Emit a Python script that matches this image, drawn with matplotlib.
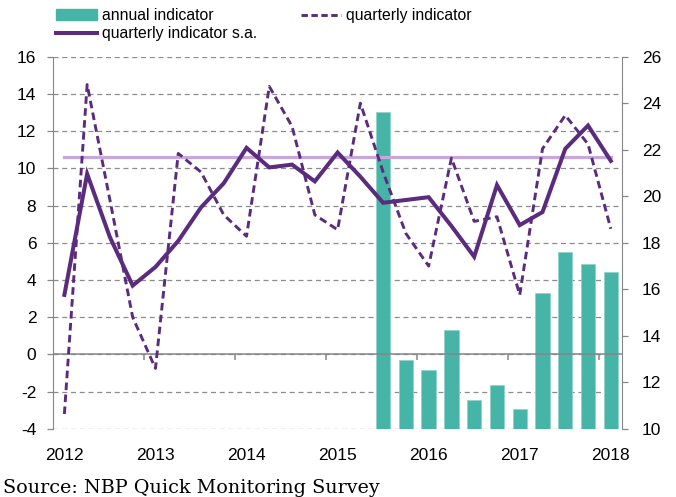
import matplotlib.pyplot as plt
from matplotlib.lines import Line2D
from matplotlib.patches import Patch
import numpy as np

# quarterly data 2012Q1 .. 2018Q1
years = ['2012', '2013', '2014', '2015', '2016', '2017', '2018']
quarterly = [-3.2, 14.5, 8.3, 2.0, -0.75, 10.8, 9.8, 7.5, 6.35, 14.4, 12.25, 7.5, 6.7,
             13.5, 9.8, 6.5, 4.75, 10.55, 7.15, 7.4, 3.2, 11.05, 12.85, 11.3, 6.75]
quarterly_sa = [3.2, 9.7, 6.3, 3.7, 4.7, 6.1, 7.9, 9.2, 11.1, 10.05, 10.2, 9.3, 10.85,
                9.55, 8.15, 8.3, 8.45, 6.9, 5.25, 9.1, 6.95, 7.65, 11.05, 12.3, 10.4]
# annual indicator (right axis), available from 2015Q3
annual_start = 14
annual = [23.6, 12.95, 12.55, 14.23, 11.26, 11.87, 10.85, 15.85, 17.6, 17.1, 16.73]
average = 10.6

purple = '#5B2C7E'
teal = '#46B4A6'
lilac = '#C8A8DC'
gray = '#868686'

plt.rcParams['font.family'] = ['Liberation Sans', 'DejaVu Sans']
plt.rcParams['axes.unicode_minus'] = False

fig = plt.figure(figsize=(6.76, 4.97), dpi=100)
ax = fig.add_axes([0.0784, 0.137, 0.842, 0.749])
ax2 = ax.twinx()
ax3 = ax.twinx()

n = len(quarterly)
x = np.arange(n)

# left axis with grid
ax.set_xlim(-0.5, n - 0.5)
ax.set_ylim(-4, 16)
ax.set_yticks(np.arange(-4, 17, 2))
ax.grid(axis='y', color='#8c8c8c', linestyle=(0, (4, 3)), linewidth=0.9)
ax.set_xticks(np.arange(0, n, 4))
ax.set_xticklabels(years)
ax.tick_params(axis='x', length=0, pad=14, labelsize=12.5)
ax.tick_params(axis='y', length=4, color=gray, width=0.9, labelsize=12.5, pad=8)
for s in ['top', 'bottom', 'right']:
    ax.spines[s].set_visible(False)
ax.spines['left'].set_color(gray)

# right axis with bars
xb = np.arange(annual_start, annual_start + len(annual))
ax2.bar(xb, np.array(annual) - 10, bottom=10, width=0.63, color=teal,
        edgecolor='#8fd3c9', linewidth=0.6)
ax2.set_ylim(10, 26)
ax2.set_yticks(np.arange(10, 27, 2))
ax2.tick_params(axis='y', length=4, color=gray, width=0.9, labelsize=12.5, pad=10)
for s in ['top', 'bottom', 'left']:
    ax2.spines[s].set_visible(False)
ax2.spines['right'].set_color(gray)

# lines on top
ax3.set_ylim(-4, 16)
ax3.set_yticks([])
for s in ax3.spines.values():
    s.set_visible(False)
ax3.axhline(0, color=gray, linewidth=1.1)
ax3.vlines(np.arange(3.5, n - 1, 4), -0.3, 0, color=gray, linewidth=1.1)
ax3.plot([x[0], x[-1]], [average, average], color=lilac, linewidth=2.3)
ax3.plot(x, quarterly, color=purple, linewidth=2.1, linestyle=(0, (2.6, 1.5)))
ax3.plot(x, quarterly_sa, color=purple, linewidth=2.9, solid_joinstyle='miter')

handles = [Patch(color=teal), Line2D([], [], color=purple, linewidth=2.9),
           Line2D([], [], color=purple, linewidth=2.1, linestyle=(0, (2.2, 1.2)))]
labels = ['annual indicator', 'quarterly indicator s.a.', 'quarterly indicator']
fig.legend(handles, labels, ncol=2, loc='upper left', bbox_to_anchor=(0.062, 1.012),
           frameon=False, handlelength=2.6, handletextpad=0.3, columnspacing=2.8,
           labelspacing=0.2, prop={'size': 11.3})

fig.text(0.004, 1 - 493 / 497, 'Source: NBP Quick Monitoring Survey', family='DejaVu Serif',
         fontsize=13.8, va='baseline')

fig.savefig('out.png', dpi=100)
